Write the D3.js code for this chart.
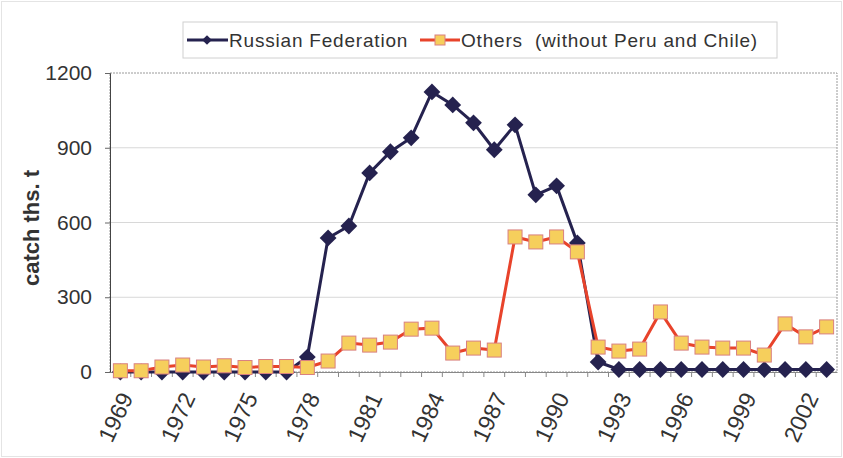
<!DOCTYPE html>
<html><head><meta charset="utf-8">
<script src="https://cdn.jsdelivr.net/npm/d3@7"></script>
<style>body{margin:0;background:#fff}svg{display:block}</style>
</head><body><svg id="c" width="843" height="458"></svg>
<script>
const years = d3.range(1969, 2004).map(String);
const russia = [0,0,0,0,0,0,0,0,0,60,538,586,799,884,940,1124,1072,1000,892,992,711,747,518,40,10,10,10,10,10,10,10,10,10,10,10];
const others = [5,5,20,28,20,25,18,22,22,18,44,116,108,120,172,176,76,96,88,542,522,542,482,100,84,92,241,116,100,96,96,68,193,141,181];
const yTicks = [0,300,600,900,1200];
const xLabels = years.filter((d,i)=>i%3===0);
const seriesNames = ["Russian Federation","Others  (without Peru and Chile)"];

const svg = d3.select("#c");
const L=110,R=837,T=73,B=372;
const x = d3.scaleBand().domain(years).range([L,R]);
const y = d3.scaleLinear().domain([0,1200]).range([B,T]);
const font = "'Liberation Sans', Arial, sans-serif";

// outer frame
svg.append("rect").attr("x",1.5).attr("y",1.5).attr("width",840).attr("height",455).attr("fill","none").attr("stroke","#e4e4e4");

// gridlines
svg.append("g").selectAll("line").data(yTicks.filter(d=>d>0 && d<1200)).join("line")
 .attr("x1",L).attr("x2",R).attr("y1",d=>y(d)).attr("y2",d=>y(d)).attr("stroke","#d8d8d8").attr("stroke-width",1);
// plot border
svg.append("rect").attr("x",L).attr("y",T).attr("width",R-L).attr("height",B-T).attr("fill","none").attr("stroke","#9a9a9a").attr("stroke-width",1).attr("stroke-dasharray","2,1");

// y axis
const ya = svg.append("g").attr("transform",`translate(${L},0)`).call(d3.axisLeft(y).tickValues(yTicks).tickFormat(d3.format("d")).tickSize(5).tickPadding(13));
ya.select(".domain").attr("stroke","#444");
ya.selectAll(".tick line").attr("stroke","#666");
ya.selectAll("text").attr("font-family",font).attr("font-size",21).attr("fill","#333");

// x axis
const xa = svg.append("g").attr("transform",`translate(0,${B})`).call(d3.axisBottom(x).tickSize(0).tickFormat(""));
xa.select(".domain").attr("stroke","#888");
svg.append("g").selectAll("line").data(years.slice(1)).join("line")
 .attr("x1",d=>x(d)).attr("x2",d=>x(d)).attr("y1",B).attr("y2",B+5).attr("stroke","#888");
svg.append("g").selectAll("text").data(xLabels).join("text")
 .attr("transform",d=>`translate(${x(d)+x.bandwidth()/2+6},${B+22}) rotate(-65)`)
 .attr("text-anchor","end").attr("dy","0.35em")
 .attr("font-family",font).attr("font-size",23).attr("fill","#333").text(d=>d);

// y label
svg.append("text").attr("transform","translate(39,228) rotate(-90)").attr("text-anchor","middle")
 .attr("font-family",font).attr("font-size",22).attr("font-weight","bold").attr("fill","#333").text("catch ths. t");

const line = d3.line().x((d,i)=>x(years[i])+x.bandwidth()/2).y(d=>y(d));
const navy="#25224f", red="#e8432b", yel="#f6cf5c", sqStroke="#d98080";
const diamond = d3.symbol().type(d3.symbolDiamond2).size(180);

// Russian
svg.append("path").datum(russia).attr("d",line).attr("fill","none").attr("stroke",navy).attr("stroke-width",3);
svg.append("g").selectAll("path").data(russia).join("path")
 .attr("transform",(d,i)=>`translate(${x(years[i])+x.bandwidth()/2},${y(d)})`)
 .attr("d",diamond).attr("fill",navy);
// Others
svg.append("path").datum(others).attr("d",line).attr("fill","none").attr("stroke",red).attr("stroke-width",3);
svg.append("g").selectAll("rect").data(others).join("rect")
 .attr("x",(d,i)=>x(years[i])+x.bandwidth()/2-7).attr("y",d=>y(d)-7).attr("width",14).attr("height",14)
 .attr("fill",yel).attr("stroke",sqStroke).attr("stroke-width",1);

// legend
const lg = svg.append("g");
lg.append("rect").attr("x",183).attr("y",22).attr("width",594).attr("height",36).attr("fill","#fff").attr("stroke","#d0d0d0");
lg.append("line").attr("x1",187).attr("x2",228).attr("y1",40).attr("y2",40).attr("stroke",navy).attr("stroke-width",3);
lg.append("path").attr("transform","translate(207,40)").attr("d",d3.symbol().type(d3.symbolDiamond2).size(60)).attr("fill",navy);
lg.append("text").attr("x",229).attr("y",40).attr("dy","0.35em").attr("font-family",font).attr("font-size",19).attr("letter-spacing",0.8).attr("fill","#333").text(seriesNames[0]);
lg.append("line").attr("x1",420).attr("x2",460).attr("y1",40).attr("y2",40).attr("stroke",red).attr("stroke-width",3);
lg.append("rect").attr("x",435).attr("y",35).attr("width",10).attr("height",10).attr("fill",yel).attr("stroke",sqStroke);
lg.append("text").attr("x",461).attr("y",40).attr("dy","0.35em").attr("font-family",font).attr("font-size",19).attr("letter-spacing",0.8).attr("fill","#333").style("white-space","pre").text(seriesNames[1]);
</script></body></html>
